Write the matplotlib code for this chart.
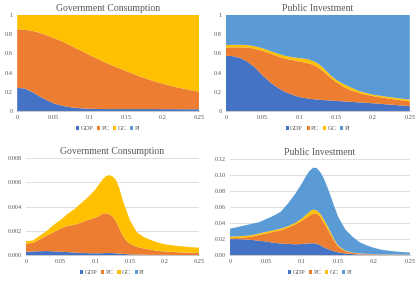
import numpy as np
import matplotlib
matplotlib.use('Agg')
import matplotlib.pyplot as plt

plt.rcParams['font.family'] = ['Liberation Serif', 'DejaVu Serif']

# shock sizes on the x axis (finer steps around the peak)
x = [0.00, 0.01, 0.02, 0.03, 0.04, 0.05, 0.06, 0.07, 0.08, 0.09, 0.10,
     0.105, 0.11, 0.115, 0.12, 0.125, 0.13, 0.135, 0.14, 0.145, 0.15,
     0.16, 0.17, 0.18, 0.19, 0.20, 0.21, 0.22, 0.23, 0.24, 0.25]

series_names = ['GDP', 'PC', 'GC', 'PI']
colors = ['#4472C4', '#ED7D31', '#FFC000', '#5B9BD5']

# top left: shares, government consumption (stacked tops of each band)
gc_share_gdp = [0.24, 0.235, 0.20, 0.155, 0.115, 0.08, 0.058, 0.042, 0.033, 0.027, 0.023,
                0.022, 0.021, 0.0205, 0.02, 0.02, 0.02, 0.02, 0.02, 0.02, 0.02,
                0.02, 0.02, 0.02, 0.02, 0.019, 0.019, 0.019, 0.018, 0.018, 0.018]
gc_share_pc_top = [0.85, 0.845, 0.835, 0.815, 0.79, 0.76, 0.73, 0.695, 0.655, 0.62, 0.58,
                   0.562, 0.545, 0.528, 0.51, 0.492, 0.475, 0.46, 0.445, 0.43, 0.415,
                   0.385, 0.355, 0.33, 0.305, 0.285, 0.265, 0.245, 0.23, 0.215, 0.20]
gc_share_gc_top = [1.0] * 31

# top right: shares, public investment
pi_share_gdp = [0.575, 0.57, 0.55, 0.51, 0.45, 0.37, 0.30, 0.245, 0.20, 0.17, 0.145,
                0.138, 0.132, 0.126, 0.122, 0.118, 0.115, 0.112, 0.11, 0.107, 0.105,
                0.10, 0.095, 0.09, 0.085, 0.08, 0.074, 0.068, 0.062, 0.056, 0.05]
pi_share_pc_top = [0.66, 0.662, 0.662, 0.66, 0.645, 0.625, 0.60, 0.57, 0.545, 0.53, 0.515,
                   0.508, 0.50, 0.49, 0.475, 0.455, 0.425, 0.395, 0.36, 0.33, 0.30,
                   0.25, 0.215, 0.19, 0.17, 0.155, 0.142, 0.13, 0.12, 0.11, 0.10]
pi_share_gc_top = [0.685, 0.688, 0.688, 0.685, 0.672, 0.652, 0.625, 0.598, 0.575, 0.56, 0.55,
                   0.545, 0.54, 0.53, 0.515, 0.495, 0.465, 0.43, 0.39, 0.355, 0.325,
                   0.28, 0.245, 0.21, 0.188, 0.17, 0.158, 0.147, 0.137, 0.127, 0.118]

# bottom left: levels, government consumption
gc_lvl_gdp = [0.00028, 0.0003, 0.00032, 0.00034, 0.00031, 0.00028, 0.00025, 0.00021, 0.00018, 0.00016, 0.00015,
              0.00015, 0.00016, 0.00017, 0.00018, 0.00017, 0.00015, 0.00012, 0.0001, 0.00008, 0.00006,
              0.00004, 0.00003, 0.00002, 0.00002, 0.00002, 0.00001, 0.00001, 0.00001, 0.00001, 0.00001]
gc_lvl_pc_top = [0.00095, 0.001, 0.0013, 0.0016, 0.0019, 0.0022, 0.0024, 0.0025, 0.0027, 0.0029, 0.0031,
                 0.0032, 0.0034, 0.00345, 0.0034, 0.0032, 0.0028, 0.0022, 0.0016, 0.0012, 0.00095,
                 0.00068, 0.00055, 0.00045, 0.00035, 0.0003, 0.00026, 0.00023, 0.00021, 0.0002, 0.00019]
gc_lvl_gc_top = [0.00115, 0.0012, 0.0016, 0.002, 0.0025, 0.0029, 0.0034, 0.0038, 0.0043, 0.0048, 0.0054,
                 0.0058, 0.0062, 0.0065, 0.0066, 0.0065, 0.0062, 0.0055, 0.0045, 0.0037, 0.0029,
                 0.0019, 0.0015, 0.00125, 0.00105, 0.0009, 0.00082, 0.00075, 0.0007, 0.00065, 0.00062]

# bottom right: levels, public investment
pi_lvl_gdp = [0.020, 0.020, 0.0195, 0.019, 0.018, 0.017, 0.0155, 0.0145, 0.014, 0.0135, 0.0138,
              0.0143, 0.0147, 0.0148, 0.0143, 0.0125, 0.0098, 0.008, 0.0062, 0.0047, 0.0035,
              0.002, 0.0012, 0.0008, 0.0006, 0.0005, 0.0004, 0.0004, 0.0003, 0.0003, 0.0003]
pi_lvl_pc_top = [0.021, 0.0215, 0.022, 0.023, 0.025, 0.027, 0.029, 0.031, 0.034, 0.038, 0.043,
                 0.046, 0.049, 0.052, 0.052, 0.048, 0.041, 0.033, 0.025, 0.017, 0.0105,
                 0.0048, 0.0028, 0.0018, 0.0013, 0.001, 0.0009, 0.0008, 0.0007, 0.0006, 0.0006]
pi_lvl_gc_top = [0.023, 0.0235, 0.024, 0.025, 0.027, 0.029, 0.031, 0.033, 0.036, 0.040, 0.046,
                 0.050, 0.054, 0.057, 0.056, 0.052, 0.045, 0.037, 0.028, 0.019, 0.012,
                 0.0055, 0.0032, 0.0021, 0.0015, 0.0012, 0.001, 0.0009, 0.0008, 0.0007, 0.0007]
pi_lvl_total = [0.033, 0.035, 0.037, 0.039, 0.041, 0.045, 0.049, 0.054, 0.064, 0.076, 0.090,
                0.098, 0.105, 0.109, 0.109, 0.104, 0.096, 0.085, 0.073, 0.060, 0.048,
                0.032, 0.023, 0.016, 0.012, 0.009, 0.0068, 0.0055, 0.0045, 0.0037, 0.0032]

x_ticks = [0, 0.05, 0.1, 0.15, 0.2, 0.25]
x_tick_labels = ['0', '0.05', '0.1', '0.15', '0.2', '0.25']

TXT = '#595959'


def bands(tops):
    # turn stacked tops into the height of each band
    tops = np.array(tops)
    return np.diff(np.vstack([np.zeros(tops.shape[1]), tops]), axis=0)


def draw(ax, tops, title, yticks, ylabels, grid):
    ax.stackplot(x, bands(tops), colors=colors, labels=series_names, linewidth=0)
    ax.set_xlim(0, 0.25)
    ax.set_ylim(yticks[0], yticks[-1])
    ax.set_xticks(x_ticks)
    ax.set_xticklabels(x_tick_labels)
    ax.set_yticks(yticks)
    ax.set_yticklabels(ylabels)
    ax.tick_params(length=0, labelsize=4.6, colors=TXT, pad=3)
    for s in ['top', 'right', 'left']:
        ax.spines[s].set_visible(False)
    ax.spines['bottom'].set_color('#BFBFBF')
    ax.spines['bottom'].set_linewidth(0.6)
    if grid:
        ax.grid(axis='y', color='#D9D9D9', linewidth=0.6)
        ax.set_axisbelow(True)
    ax.set_title(title, fontsize=7, color=TXT, pad=3)
    ax.legend(loc='upper center', bbox_to_anchor=(0.5, -0.13), ncol=4, frameon=False,
              fontsize=4.6, labelcolor=TXT, handlelength=0.5, handleheight=0.5,
              handletextpad=0.2, columnspacing=0.6, borderaxespad=0)


fig = plt.figure(figsize=(4.19, 2.86), dpi=100)

ax1 = fig.add_axes([0.041, 0.612, 0.434, 0.336])
draw(ax1, [gc_share_gdp, gc_share_pc_top, gc_share_gc_top, [1.0] * 31], 'Government Consumption',
     [0, 0.2, 0.4, 0.6, 0.8, 1.0], ['0', '0.2', '0.4', '0.6', '0.8', '1'], False)

ax2 = fig.add_axes([0.539, 0.612, 0.439, 0.336])
draw(ax2, [pi_share_gdp, pi_share_pc_top, pi_share_gc_top, [1.0] * 31], 'Public Investment',
     [0, 0.2, 0.4, 0.6, 0.8, 1.0], ['0', '0.2', '0.4', '0.6', '0.8', '1'], False)

ax3 = fig.add_axes([0.062, 0.108, 0.413, 0.339])
draw(ax3, [gc_lvl_gdp, gc_lvl_pc_top, gc_lvl_gc_top, gc_lvl_gc_top], 'Government Consumption',
     [0, 0.002, 0.004, 0.006, 0.008], ['0.000', '0.002', '0.004', '0.006', '0.008'], True)

ax4 = fig.add_axes([0.549, 0.108, 0.43, 0.336])
draw(ax4, [pi_lvl_gdp, pi_lvl_pc_top, pi_lvl_gc_top, pi_lvl_total], 'Public Investment',
     [0, 0.02, 0.04, 0.06, 0.08, 0.10, 0.12], ['0.00', '0.02', '0.04', '0.06', '0.08', '0.10', '0.12'], True)

fig.savefig('out.png', dpi=100)
